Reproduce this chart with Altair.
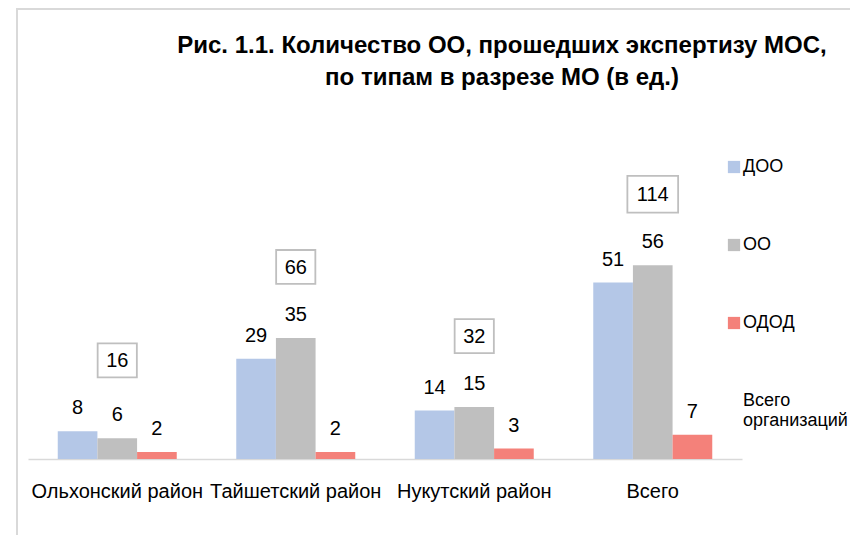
import altair as alt
import pandas as pd

regions = ["Ольхонский район", "Тайшетский район", "Нукутский район", "Всего"]
types = ["ДОО", "ОО", "ОДОД"]
doo = [8, 29, 14, 51]
oo = [6, 35, 15, 56]
odod = [2, 2, 3, 7]
totals = [16, 66, 32, 114]
legend_items = ["ДОО", "ОО", "ОДОД", "Всего организаций"]
colors = ["#B4C7E7", "#BFBFBF", "#F4817A", "transparent"]

rows = []
for i, r in enumerate(regions):
    for t, vals in zip(types, [doo, oo, odod]):
        rows.append({"region": r, "type": t, "value": vals[i]})
bars_df = pd.DataFrame(rows)

box_df = pd.DataFrame({
    "region": regions,
    "total": totals,
    "top": [max(a, b, c) for a, b, c in zip(doo, oo, odod)],
})

FONT = "Liberation Sans Narrow, Arial Narrow, Liberation Sans, Arial"

x = alt.X("region:N", sort=regions, title=None,
          scale=alt.Scale(paddingInner=1/3, paddingOuter=1/6),
          axis=alt.Axis(labelAngle=0, ticks=False, domainColor="#D9D9D9",
                        domainWidth=1.5, labelFont=FONT, labelFontSize=20,
                        labelColor="#000000", labelPadding=22,
                        labelBaseline="top"))
y_scale = alt.Scale(domain=[0, 100])

base = alt.Chart(bars_df)

bars = base.mark_bar().encode(
    x=x,
    xOffset=alt.XOffset("type:N", sort=types, scale=alt.Scale(domain=types)),
    y=alt.Y("value:Q", scale=y_scale, axis=None),
    color=alt.Color("type:N",
                    scale=alt.Scale(domain=legend_items, range=colors),
                    legend=alt.Legend(
                        title=None, orient="none", legendX=697, legendY=45,
                        direction="vertical", symbolType="square",
                        symbolSize=150, symbolStrokeWidth=0,
                        labelFont=FONT, labelFontSize=18, labelColor="#000000",
                        rowPadding=60, labelOffset=0,
                        labelExpr="datum.label == 'Всего организаций' ? ['Всего', 'организаций'] : datum.label")),
)

labels = base.mark_text(font=FONT, fontSize=20, color="#000000",
                        baseline="alphabetic", dy=-17).encode(
    x=alt.X("region:N", sort=regions),
    xOffset=alt.XOffset("type:N", sort=types),
    y=alt.Y("value:Q", scale=y_scale),
    text=alt.Text("value:Q"),
)

boxes_base = alt.Chart(box_df).transform_calculate(
    boxy="datum.top + 20.5",
    shp="length(toString(datum.total)) > 2 ? 'M-1.45,-1.05L1.45,-1.05L1.45,1.05L-1.45,1.05Z' : 'M-1.12,-0.97L1.12,-0.97L1.12,0.97L-1.12,0.97Z'",
)

boxes = boxes_base.mark_point(filled=False, stroke="#BFBFBF", strokeWidth=1.8,
                              opacity=1).encode(
    x=alt.X("region:N", sort=regions),
    y=alt.Y("boxy:Q", scale=y_scale),
    shape=alt.Shape("shp:N", scale=None),
    size=alt.value(1225),
)

box_text = boxes_base.mark_text(font=FONT, fontSize=20, color="#000000",
                                baseline="middle", dy=1).encode(
    x=alt.X("region:N", sort=regions),
    y=alt.Y("boxy:Q", scale=y_scale),
    text=alt.Text("total:Q"),
)

border = alt.Chart(box_df).mark_rect(fill=None, stroke="#D9D9D9",
                                     strokeWidth=1.5).encode(
    x=alt.value(-11), x2=alt.value(900), y=alt.value(-104), y2=alt.value(500)
)

chart = alt.layer(border, bars, labels, boxes, box_text).properties(
    width=714, height=346,
    autosize=alt.AutoSizeParams(type="none"),
    padding={"left": 20, "top": 105, "right": 108, "bottom": 76},
    title=alt.Title(
        ["Рис. 1.1.  Количество ОО, прошедших экспертизу МОС,",
         "по типам в разрезе МО (в ед.)"],
        font=FONT, fontSize=24, fontWeight="bold", color="#000000",
        anchor="middle", frame="group", dx=117, offset=-82, lineHeight=32),
).configure_view(stroke=None)

chart.save("out.html", embed_options={"renderer": "svg", "actions": False})
